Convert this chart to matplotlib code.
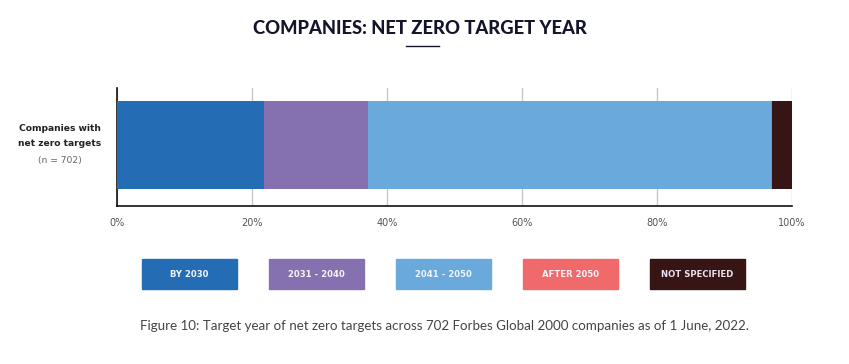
import matplotlib
matplotlib.use("Agg")
import matplotlib.pyplot as plt
from matplotlib.patches import Rectangle

# data: number of companies per target-year bucket (n = 702)
categories = ["BY 2030", "2031 - 2040", "2041 - 2050", "AFTER 2050", "NOT SPECIFIED"]
counts = [153, 108, 419, 1, 21]
colors = ["#246db5", "#8671b0", "#6aa9dc", "#f0696b", "#381515"]
label_colors = ["#f4f4fa", "#f4f4fa", "#f4f4fa", "#f4f4fa", "#eae4f0"]
ticks = [0, 20, 40, 60, 80, 100]
tick_labels = ["0%", "20%", "40%", "60%", "80%", "100%"]

total = sum(counts)
shares = [c / total * 100 for c in counts]

W, H = 849, 364
fig = plt.figure(figsize=(W / 100, H / 100), dpi=100)
ax = fig.add_axes([117 / W, 1 - 206 / H, (792 - 117) / W, 118 / H])

left = 0
for s, c in zip(shares, colors):
    ax.barh(0, s, left=left, height=0.746, color=c, zorder=3)
    left += s

ax.set_xlim(0, 100)
ax.set_ylim(-0.52, 0.48)
ax.set_yticks([])
ax.set_xticks(ticks)
ax.set_xticklabels(tick_labels, fontsize=7, color="#555555")
ax.tick_params(axis="x", length=0, pad=9)
ax.grid(axis="x", color="#c8c8c8", linewidth=1, zorder=0)
for side in ["top", "right"]:
    ax.spines[side].set_visible(False)
for side in ["left", "bottom"]:
    ax.spines[side].set_color("#111111")
    ax.spines[side].set_linewidth(1.2)

# row label
fig.text(60 / W, 1 - 128 / H, "Companies with", ha="center", va="center",
         fontsize=6.6, fontweight="bold", color="#222222")
fig.text(60 / W, 1 - 144 / H, "net zero targets", ha="center", va="center",
         fontsize=6.6, fontweight="bold", color="#222222")
fig.text(60 / W, 1 - 160 / H, "(n = 702)", ha="center", va="center",
         fontsize=6.6, color="#666666")

# title + underline
fig.text(419.5 / W, 1 - 29 / H, "COMPANIES: NET ZERO TARGET YEAR", ha="center", va="center",
         fontsize=13.2, fontweight="black", color="#14142b", family=["Lato", "DejaVu Sans"])
fig.add_artist(plt.Line2D([406 / W, 439 / W], [1 - 46 / H, 1 - 46 / H],
                          color="#14142b", linewidth=1))

# legend boxes
box_x = [142, 269, 396, 523, 650]
for x, name, c, tc in zip(box_x, categories, colors, label_colors):
    fig.add_artist(Rectangle((x / W, 1 - 289 / H), 95 / W, 30 / H,
                             transform=fig.transFigure, color=c))
    fig.text((x + 47.5) / W, 1 - 274.5 / H, name, ha="center", va="center",
             fontsize=6.1, fontweight="semibold", color=tc)

fig.text(444 / W, 1 - 326 / H,
         "Figure 10: Target year of net zero targets across 702 Forbes Global 2000 companies as of 1 June, 2022.",
         ha="center", va="center", fontsize=9.65, color="#444444",
         family=["Lato", "DejaVu Sans"])

fig.savefig("out.png", dpi=100)
